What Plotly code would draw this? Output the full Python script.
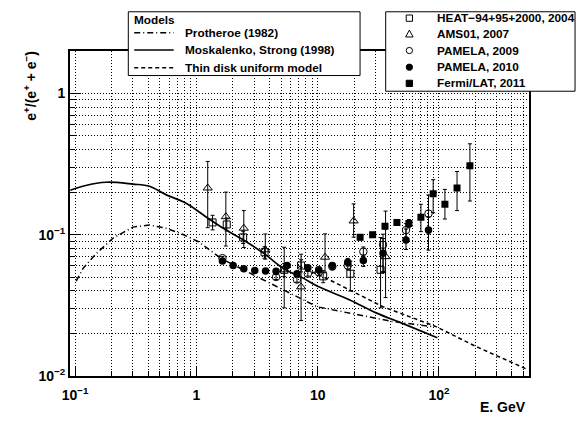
import plotly.graph_objects as go

W, H = 578, 421

# ---------------- data ----------------
# Models (curves)
E_mosk = [0.091, 0.12, 0.18, 0.3, 0.41, 0.56, 0.81, 1.18, 1.72, 2.5, 3.65, 5.3, 7.3, 10, 18.6, 30, 50, 97]
R_mosk = [0.206, 0.222, 0.235, 0.228, 0.22, 0.192, 0.168, 0.135, 0.109, 0.0905, 0.073, 0.057, 0.050, 0.043, 0.0343, 0.028, 0.0235, 0.0186]

E_proth = [0.102, 0.117, 0.15, 0.206, 0.3, 0.41, 0.56, 0.76, 1.04, 1.62, 2.5, 4.1, 6.8, 9.9, 18.6, 41.8, 88]
R_proth = [0.0468, 0.058, 0.0736, 0.0946, 0.113, 0.117, 0.111, 0.101, 0.089, 0.0673, 0.0557, 0.045, 0.0363, 0.0308, 0.0277, 0.0242, 0.0223]

E_disk = [7, 12, 18.6, 34.6, 94.5, 199, 547]
R_disk = [0.0598, 0.0487, 0.0403, 0.0308, 0.0223, 0.0162, 0.011]

# Experimental data
E_heat = [1.36, 1.78, 2.43, 3.65, 5.3, 7.3, 11.1, 18.6, 33]
R_heat = [0.122, 0.118, 0.0956, 0.075, 0.0563, 0.0604, 0.0506, 0.0528, 0.0563]
Up_heat = [0.015, 0.013, 0.010, 0.007, 0.006, 0.006, 0.005, 0.012, 0.039]
Dn_heat = [0.014, 0.012, 0.009, 0.007, 0.006, 0.006, 0.005, 0.013, 0.026]

E_ams = [1.24, 1.75, 2.46, 3.7, 5.3, 7.3, 11.5, 19.8, 36.3]
R_ams = [0.214, 0.134, 0.111, 0.078, 0.0563, 0.0426, 0.0692, 0.125, 0.0698]
Up_ams = [0.116, 0.066, 0.037, 0.023, 0.025, 0.030, 0.032, 0.040, 0.077]
Dn_ams = [0.102, 0.051, 0.030, 0.011, 0.026, 0.018, 0.015, 0.029, 0.034]

E_pam09 = [1.64, 4.54, 6.75, 8.3, 10.2, 13.2, 17.7, 23.8, 34.6, 53.5, 82]
R_pam09 = [0.0681, 0.0501, 0.048, 0.0528, 0.0543, 0.0594, 0.0604, 0.0757, 0.0847, 0.1076, 0.141]
Up_pam09 = [0.002, 0.002, 0.002, 0.002, 0.003, 0.003, 0.004, 0.006, 0.016, 0.012, 0.05]
Dn_pam09 = [0.002, 0.002, 0.002, 0.002, 0.003, 0.003, 0.004, 0.006, 0.03, 0.012, 0.04]

E_pam10 = [1.64, 2.01, 2.46, 3.03, 3.72, 4.54, 5.6, 6.75, 8.3, 10.2, 13.2, 17.7, 23.8, 34.6, 53.5, 82]
R_pam10 = [0.0649, 0.0604, 0.0573, 0.0557, 0.0552, 0.055, 0.0604, 0.0528, 0.0582, 0.0563, 0.0604, 0.0638, 0.0655, 0.0738, 0.0915, 0.1076]
Up_pam10 = [0.001, 0.001, 0.001, 0.001, 0.001, 0.001, 0.002, 0.002, 0.002, 0.002, 0.003, 0.004, 0.006, 0.02, 0.018, 0.025]
Dn_pam10 = [0.001, 0.001, 0.001, 0.001, 0.001, 0.001, 0.002, 0.002, 0.002, 0.002, 0.003, 0.004, 0.006, 0.02, 0.013, 0.03]

E_fermi = [22.4, 28.4, 35.9, 45, 56.5, 71, 89.6, 112, 141, 180]
R_fermi = [0.0956, 0.0997, 0.1147, 0.122, 0.12, 0.133, 0.195, 0.164, 0.214, 0.307]
Up_fermi = [0.004, 0.004, 0.005, 0.006, 0.008, 0.031, 0.05, 0.045, 0.066, 0.133]
Dn_fermi = [0.004, 0.004, 0.005, 0.006, 0.008, 0.028, 0.052, 0.035, 0.066, 0.134]

x_major = [0.1, 1, 10, 100]
x_major_text = ["10<sup>−1</sup>", "1", "10", "10<sup>2</sup>"]
x_minor = [0.2, 0.3, 0.4, 0.5, 0.6, 0.7, 0.8, 0.9, 2, 3, 4, 5, 6, 7, 8, 9,
           20, 30, 40, 50, 60, 70, 80, 90, 200, 300, 400, 500]
y_major = [0.01, 0.1, 1]
y_major_text = ["10<sup>−2</sup>", "10<sup>−1</sup>", "1"]
y_minor = [0.02, 0.03, 0.04, 0.05, 0.06, 0.07, 0.08, 0.09,
           0.2, 0.3, 0.4, 0.5, 0.6, 0.7, 0.8, 0.9]

model_names = ["Protheroe (1982)", "Moskalenko, Strong (1998)", "Thin disk uniform model"]
data_names = ["HEAT−94+95+2000, 2004", "AMS01, 2007", "PAMELA, 2009", "PAMELA, 2010", "Fermi/LAT, 2011"]

# ---------------- figure ----------------
FONT = "Liberation Sans, Arial, Helvetica, sans-serif"
DASHDOT = "6px,3px,1px,3px"
DASH = "4px,3px"
fig = go.Figure()

fig.add_trace(go.Scatter(x=E_proth, y=R_proth, mode="lines", name=model_names[0],
                         line=dict(color="black", width=1.5, dash=DASHDOT)))
fig.add_trace(go.Scatter(x=E_mosk, y=R_mosk, mode="lines", name=model_names[1],
                         line=dict(color="black", width=1.7, shape="spline")))
fig.add_trace(go.Scatter(x=E_disk, y=R_disk, mode="lines", name=model_names[2],
                         line=dict(color="black", width=1.5, dash=DASH)))

def errs(up, dn):
    return dict(type="data", array=up, arrayminus=dn, symmetric=False,
                color="black", thickness=1, width=2)

fig.add_trace(go.Scatter(x=E_heat, y=R_heat, mode="markers", name=data_names[0],
                         marker=dict(symbol="square-open", size=7, color="black", line=dict(width=1)),
                         error_y=errs(Up_heat, Dn_heat)))
fig.add_trace(go.Scatter(x=E_ams, y=R_ams, mode="markers", name=data_names[1],
                         marker=dict(symbol="triangle-up-open", size=8, color="black", line=dict(width=1)),
                         error_y=errs(Up_ams, Dn_ams)))
fig.add_trace(go.Scatter(x=E_pam09, y=R_pam09, mode="markers", name=data_names[2],
                         marker=dict(symbol="circle-open", size=7.5, color="black", line=dict(width=1)),
                         error_y=errs(Up_pam09, Dn_pam09)))
fig.add_trace(go.Scatter(x=E_pam10, y=R_pam10, mode="markers", name=data_names[3],
                         marker=dict(symbol="circle", size=7.5, color="black"),
                         error_y=errs(Up_pam10, Dn_pam10)))
fig.add_trace(go.Scatter(x=E_fermi, y=R_fermi, mode="markers", name=data_names[4],
                         marker=dict(symbol="square", size=7, color="black"),
                         error_y=errs(Up_fermi, Dn_fermi)))

L, R_, T, B = 63, 528, 52, 383
px = lambda x: x / W
py = lambda y: 1 - y / H

grid = dict(showgrid=True, gridcolor="black", gridwidth=1, griddash="1px,2px")
fig.update_layout(
    width=W, height=H, margin=dict(l=0, r=0, t=0, b=0),
    paper_bgcolor="white", plot_bgcolor="white", showlegend=False,
    font=dict(family=FONT, size=14, color="black", weight="bold"),
    xaxis=dict(type="log", range=[-1.041, 2.74], domain=[px(L), px(R_)],
               tickmode="array", tickvals=x_major, ticktext=x_major_text,
               ticks="inside", ticklen=9, tickwidth=1, tickcolor="black",
               ticklabelstandoff=5,
               showline=True, linecolor="black", linewidth=2, mirror=True,
               tickfont=dict(size=14, family=FONT, weight="bold"),
               minor=dict(tickmode="array", tickvals=x_minor, ticks="inside", ticklen=5,
                          tickcolor="black", **grid),
               zeroline=False, **grid),
    yaxis=dict(type="log", range=[-2, 0.301], domain=[py(B), py(T)],
               tickmode="array", tickvals=y_major, ticktext=y_major_text,
               ticks="inside", ticklen=11, tickwidth=1, tickcolor="black",
               showline=True, linecolor="black", linewidth=2, mirror=True,
               tickfont=dict(size=14, family=FONT, weight="bold"),
               minor=dict(tickmode="array", tickvals=y_minor, ticks="inside", ticklen=5,
                          tickcolor="black", **grid),
               zeroline=False, **grid),
)

shapes = []
annots = []
# axis titles
annots.append(dict(x=px(527), y=py(415), xref="paper", yref="paper", xanchor="right", yanchor="middle",
                   text="E. GeV", showarrow=False, font=dict(size=14, family=FONT, weight="bold")))
annots.append(dict(x=px(22), y=py(50), xref="paper", yref="paper", xanchor="center", yanchor="top",
                   text="e<sup>+</sup>/(e<sup>+</sup> + e<sup>−</sup>)", textangle=-90, showarrow=False,
                   font=dict(size=14, family=FONT, weight="bold")))

LFONT = dict(size=11.8, family=FONT, weight="bold", color="black")
# left legend box
shapes.append(dict(type="rect", xref="paper", yref="paper", x0=px(122), x1=px(357), y0=py(77), y1=py(12),
                   fillcolor="white", line=dict(color="black", width=1), layer="above"))
annots.append(dict(x=px(126), y=py(20), xref="paper", yref="paper", xanchor="left", yanchor="middle",
                   text="Models", showarrow=False, font=LFONT))
rows_l = [33.5, 51, 69]
dashes = [DASHDOT, "solid", DASH]
for name, yy, d in zip(model_names, rows_l, dashes):
    shapes.append(dict(type="line", xref="paper", yref="paper", x0=px(128), x1=px(168), y0=py(yy), y1=py(yy),
                       line=dict(color="black", width=1.5, dash=d), layer="above"))
    annots.append(dict(x=px(177), y=py(yy), xref="paper", yref="paper", xanchor="left", yanchor="middle",
                       text=name, showarrow=False, font=LFONT))

# right legend box
shapes.append(dict(type="rect", xref="paper", yref="paper", x0=px(383), x1=px(575), y0=py(93), y1=py(12),
                   fillcolor="white", line=dict(color="black", width=1), layer="above"))
rows_r = [18.5, 34.5, 51.5, 68.5, 85]
mx = 407
s = 3.2
# open square
shapes.append(dict(type="rect", xref="paper", yref="paper", x0=px(mx - s), x1=px(mx + s),
                   y0=py(rows_r[0] + s), y1=py(rows_r[0] - s), line=dict(color="black", width=1), layer="above"))
# open triangle
yt = rows_r[1]
shapes.append(dict(type="path", xref="paper", yref="paper",
                   path=f"M {px(mx - 3.8)} {py(yt + 3.2)} L {px(mx + 3.8)} {py(yt + 3.2)} L {px(mx)} {py(yt - 3.8)} Z",
                   line=dict(color="black", width=1), layer="above"))
# open circle
shapes.append(dict(type="circle", xref="paper", yref="paper", x0=px(mx - s), x1=px(mx + s),
                   y0=py(rows_r[2] + s), y1=py(rows_r[2] - s), line=dict(color="black", width=1), layer="above"))
# filled circle
shapes.append(dict(type="circle", xref="paper", yref="paper", x0=px(mx - s), x1=px(mx + s),
                   y0=py(rows_r[3] + s), y1=py(rows_r[3] - s), line=dict(color="black", width=1),
                   fillcolor="black", layer="above"))
# filled square
shapes.append(dict(type="rect", xref="paper", yref="paper", x0=px(mx - s), x1=px(mx + s),
                   y0=py(rows_r[4] + s), y1=py(rows_r[4] - s), line=dict(color="black", width=1),
                   fillcolor="black", layer="above"))
for name, yy in zip(data_names, rows_r):
    annots.append(dict(x=px(433), y=py(yy), xref="paper", yref="paper", xanchor="left", yanchor="middle",
                       text=name, showarrow=False, font=LFONT))

fig.update_layout(shapes=shapes, annotations=annots)
fig.write_html("out.html")
